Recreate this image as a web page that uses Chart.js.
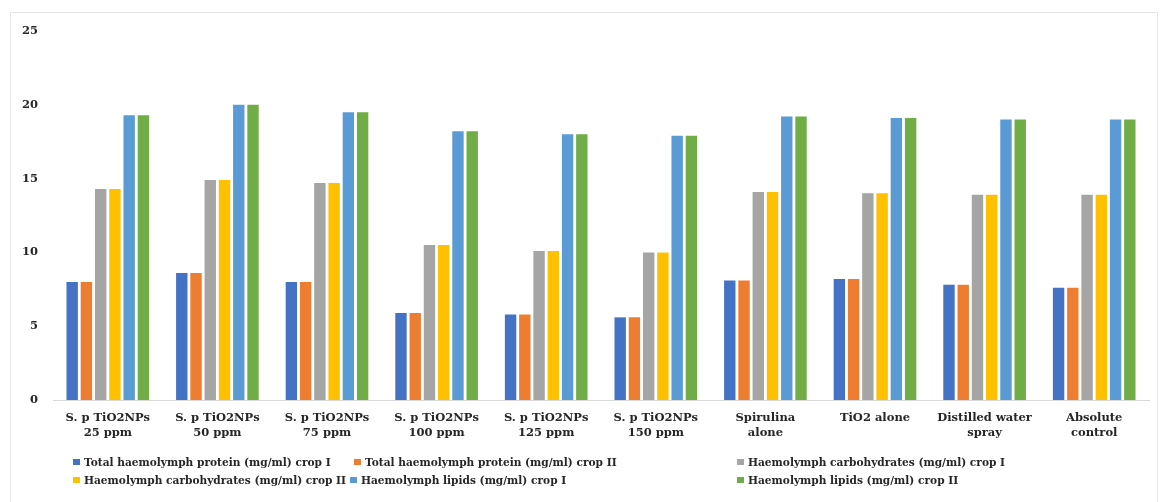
<!DOCTYPE html>
<html>
<head>
<meta charset="utf-8">
<title>Haemolymph parameters</title>
<script src="https://cdn.jsdelivr.net/npm/chart.js@4.4.1/dist/chart.umd.min.js"></script>
<style>
    html, body { margin: 0; padding: 0; background: #fff; }
    #wrap { position: relative; width: 1166px; height: 502px; overflow: hidden; }
    #frame { position: absolute; left: 10px; top: 12px; width: 1148px; height: 500px;
             border: 1px solid #e6e6e6; box-sizing: border-box; pointer-events: none; }
    #legend { position: absolute; left: 0; top: 0; width: 1166px; height: 502px; pointer-events: none;
              font: bold 10.6px "DejaVu Serif", serif; color: #262626; }
    .item { position: absolute; white-space: nowrap; line-height: 16px; }
    .box { display: inline-block; width: 7px; height: 6px; margin-right: 4px; vertical-align: 1px; }
</style>
</head>
<body>
<div id="wrap">
    <canvas id="chart" width="1166" height="502"></canvas>
    <div id="frame"></div>
    <div id="legend"></div>
</div>
<script>
// Categories and values
const categories = [
    ['S. p TiO2NPs', '25 ppm'],
    ['S. p TiO2NPs', '50 ppm'],
    ['S. p TiO2NPs', '75 ppm'],
    ['S. p TiO2NPs', '100 ppm'],
    ['S. p TiO2NPs', '125 ppm'],
    ['S. p TiO2NPs', '150 ppm'],
    ['Spirulina', 'alone'],
    'TiO2 alone',
    ['Distilled water', 'spray'],
    ['Absolute', 'control']
];

const seriesNames = [
    'Total haemolymph protein (mg/ml) crop I',
    'Total haemolymph protein (mg/ml) crop II',
    'Haemolymph carbohydrates (mg/ml) crop I',
    'Haemolymph carbohydrates (mg/ml) crop II',
    'Haemolymph lipids (mg/ml) crop I',
    'Haemolymph lipids (mg/ml) crop II'
];

const proteinCrop1 = [8.0, 8.6, 8.0, 5.9, 5.8, 5.6, 8.1, 8.2, 7.8, 7.6];
const proteinCrop2 = [8.0, 8.6, 8.0, 5.9, 5.8, 5.6, 8.1, 8.2, 7.8, 7.6];
const carbsCrop1   = [14.3, 14.9, 14.7, 10.5, 10.1, 10.0, 14.1, 14.0, 13.9, 13.9];
const carbsCrop2   = [14.3, 14.9, 14.7, 10.5, 10.1, 10.0, 14.1, 14.0, 13.9, 13.9];
const lipidsCrop1  = [19.3, 20.0, 19.5, 18.2, 18.0, 17.9, 19.2, 19.1, 19.0, 19.0];
const lipidsCrop2  = [19.3, 20.0, 19.5, 18.2, 18.0, 17.9, 19.2, 19.1, 19.0, 19.0];

const yTicks = [0, 5, 10, 15, 20, 25];

const colors = ['#4472C4', '#ED7D31', '#A5A5A5', '#FFC000', '#5B9BD5', '#70AD47'];
const allSeries = [proteinCrop1, proteinCrop2, carbsCrop1, carbsCrop2, lipidsCrop1, lipidsCrop2];

const serif = '"DejaVu Serif", serif';

new Chart(document.getElementById('chart'), {
    type: 'bar',
    data: {
        labels: categories,
        datasets: allSeries.map((vals, i) => ({
            label: seriesNames[i],
            data: vals,
            backgroundColor: colors[i],
            borderWidth: 0,
            categoryPercentage: 0.78,
            barPercentage: 0.8
        }))
    },
    options: {
        responsive: false,
        animation: false,
        layout: { padding: { top: 31, right: 17, bottom: 55, left: 0 } },
        plugins: {
            legend: { display: false },
            tooltip: { enabled: false }
        },
        scales: {
            x: {
                afterFit: axis => { axis.height = 47; },
                grid: { display: false, drawTicks: false },
                border: { display: true, color: '#d9d9d9', width: 1 },
                ticks: {
                    color: '#262626',
                    padding: 11,
                    maxRotation: 0,
                    autoSkip: false,
                    font: { family: serif, size: 11.5, weight: 'bold', lineHeight: 1.3 }
                }
            },
            y: {
                min: 0,
                max: 25,
                afterBuildTicks: axis => { axis.ticks = yTicks.map(v => ({ value: v })); },
                afterFit: axis => { axis.width = 53; },
                grid: { display: false, drawTicks: false },
                border: { display: false },
                ticks: {
                    color: '#262626',
                    padding: 15,
                    font: { family: serif, size: 11.5, weight: 'bold' }
                }
            }
        }
    }
});

// Legend laid out in three columns, two rows, like the original
const legendCols = [[73, 354, 737], [73, 350, 737]];
const legendRows = [454, 472];
const legend = document.getElementById('legend');
seriesNames.forEach((name, i) => {
    const row = Math.floor(i / 3);
    const item = document.createElement('div');
    item.className = 'item';
    item.style.left = legendCols[row][i % 3] + 'px';
    item.style.top = legendRows[row] + 'px';
    item.innerHTML = '<span class="box" style="background:' + colors[i] + '"></span>' + name;
    legend.appendChild(item);
});
</script>
</body>
</html>
